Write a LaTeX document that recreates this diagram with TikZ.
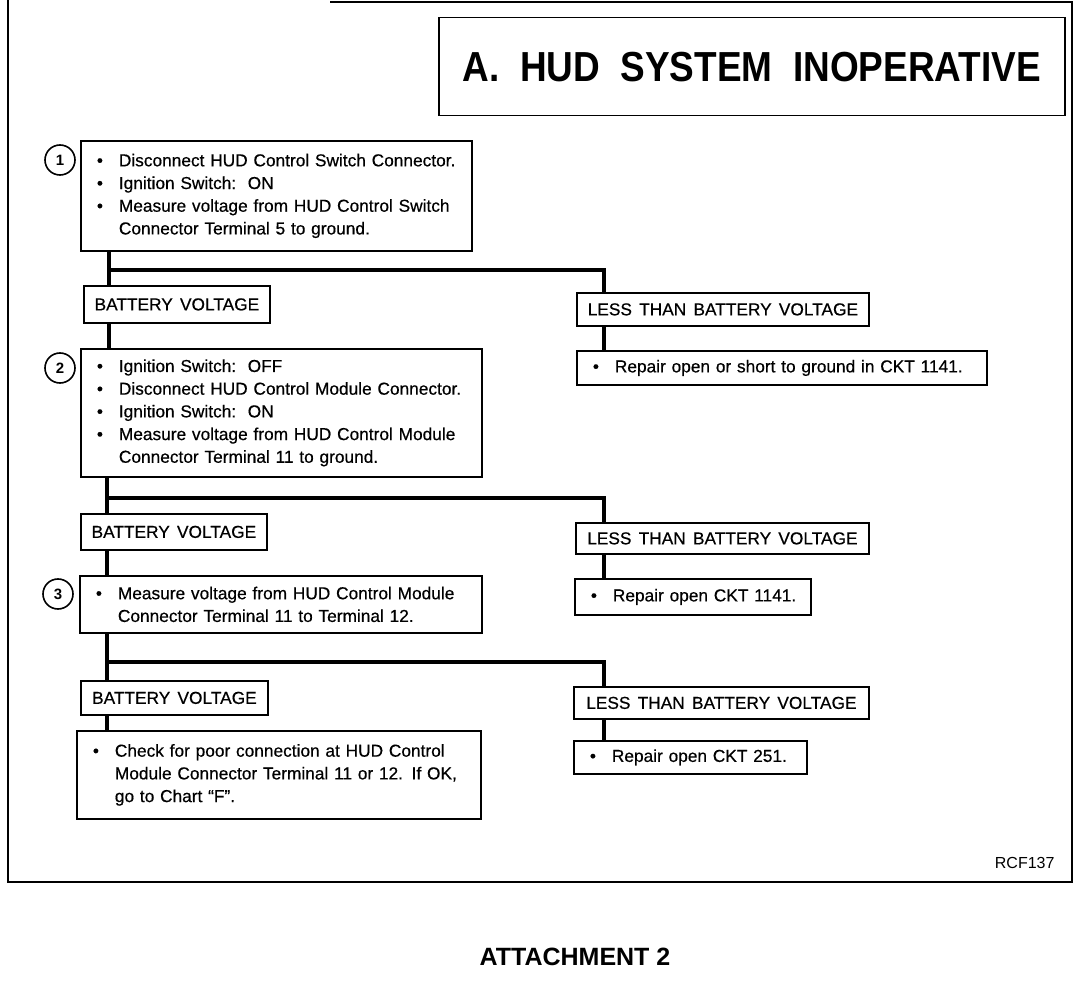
\documentclass[tikz,border=0pt]{standalone}
\usepackage{fontspec}
\setmainfont{Liberation Sans}[WordSpace=1.5,FakeBold=0.5]
\newfontfamily\plainfont{Liberation Sans}
\newfontfamily\titlefont{Liberation Sans}[FakeStretch=0.88,WordSpace=2]
\usetikzlibrary{calc}
\newcommand{\bul}{\makebox[22pt][l]{\textbullet}}
\newcommand{\ind}{\hspace*{22pt}}
\newcommand{\bodysize}{\fontsize{17.3}{22.7}\selectfont}
\tikzset{
  box/.style={draw, line width=1.8pt, inner xsep=16pt, inner ysep=0pt, anchor=north west, align=left, font=\bodysize},
  lbl/.style={draw, line width=1.8pt, inner sep=0pt, anchor=north west, align=center, font=\bodysize},
  num/.style={circle, draw, line width=1.6pt, minimum size=30pt, inner sep=0pt, font=\plainfont\bfseries\fontsize{15}{15}\selectfont},
  conn/.style={line width=3.2pt},
  frame/.style={line width=1.5pt}
}
\begin{document}
\begin{tikzpicture}[x=1pt,y=-1pt]
\useasboundingbox (0,0) rectangle (1088,992);
% outer frame
\draw[frame] (330,2) -- (1072,2) -- (1072,882) -- (8,882) -- (8,0);
% title
\node[draw, line width=1.5pt, minimum width=626pt, minimum height=98pt, inner sep=0pt, anchor=north west,
      font=\titlefont\bfseries\fontsize{42}{42}\selectfont] (title) at (438,17) {A. HUD SYSTEM INOPERATIVE};
% step 1
\node[num] (c1) at (60,160) {1};
\node[box, text width=359pt, minimum height=110pt] (box1) at (80,140)
  {\bul Disconnect HUD Control Switch Connector.\\
   \bul Ignition Switch:\ \ ON\\
   \bul Measure voltage from HUD Control Switch\\
   \ind Connector Terminal 5 to ground.};
\node[lbl, minimum width=186pt, minimum height=37pt] (bv1) at (83,285) {BATTERY VOLTAGE};
\node[lbl, minimum width=292pt, minimum height=33pt] (lt1) at (576,292) {LESS THAN BATTERY VOLTAGE};
\node[box, text width=378pt, minimum height=34pt] (rp1) at (576,350)
  {\mbox{\bul Repair open or short to ground in CKT 1141.}};
% step 2
\node[num] (c2) at (60,368) {2};
\node[box, text width=369pt, minimum height=128pt] (box2) at (80,348)
  {\bul Ignition Switch:\ \ OFF\\
   \bul Disconnect HUD Control Module Connector.\\
   \bul Ignition Switch:\ \ ON\\
   \bul Measure voltage from HUD Control Module\\
   \ind Connector Terminal 11 to ground.};
\node[lbl, minimum width=186pt, minimum height=36pt] (bv2) at (80,513) {BATTERY VOLTAGE};
\node[lbl, minimum width=293pt, minimum height=31pt] (lt2) at (575,522) {LESS THAN BATTERY VOLTAGE};
\node[box, text width=204pt, minimum height=36pt] (rp2) at (574,578)
  {\mbox{\bul Repair open CKT 1141.}};
% step 3
\node[num] (c3) at (58,594) {3};
\node[box, text width=370pt, minimum height=57pt] (box3) at (79,575)
  {\bul Measure voltage from HUD Control Module\\
   \ind Connector Terminal 11 to Terminal 12.};
\node[lbl, minimum width=187pt, minimum height=34pt] (bv3) at (80,680) {BATTERY VOLTAGE};
\node[lbl, minimum width=295pt, minimum height=32pt] (lt3) at (573,686) {LESS THAN BATTERY VOLTAGE};
\node[box, text width=201pt, minimum height=33pt] (rp3) at (573,740)
  {\mbox{\bul Repair open CKT 251.}};
\node[box, text width=372pt, minimum height=88pt] (box4) at (76,730)
  {\bul Check for poor connection at HUD Control\\
   \ind Module Connector Terminal 11 or 12. If OK,\\
   \ind go to Chart ``F''.};
% connectors
\coordinate (t1) at (109,270); \coordinate (b1) at (604,270);
\draw[conn] (box1.south -| t1) -- (bv1.north -| t1);
\draw[conn] (t1) -- (b1) -- (lt1.north -| b1);
\draw[conn] (bv1.south -| t1) -- (box2.north -| t1);
\draw[conn] (lt1.south -| b1) -- (rp1.north -| b1);
\coordinate (t2) at (107,498); \coordinate (b2) at (604,498);
\draw[conn] (box2.south -| t2) -- (bv2.north -| t2);
\draw[conn] (t2) -- (b2) -- (lt2.north -| b2);
\draw[conn] (bv2.south -| t2) -- (box3.north -| t2);
\draw[conn] (lt2.south -| b2) -- (rp2.north -| b2);
\coordinate (t3) at (107,662); \coordinate (b3) at (604,662);
\draw[conn] (box3.south -| t3) -- (bv3.north -| t3);
\draw[conn] (t3) -- (b3) -- (lt3.north -| b3);
\draw[conn] (bv3.south -| t3) -- (box4.north -| t3);
\draw[conn] (lt3.south -| b3) -- (rp3.north -| b3);
% labels
\node[anchor=east, font=\plainfont\fontsize{16}{16}\selectfont] (rcf) at (1058,863) {RCF137};
\node[font=\plainfont\bfseries\fontsize{25}{25}\selectfont] (att) at (575,957) {ATTACHMENT 2};
\end{tikzpicture}
\end{document}
